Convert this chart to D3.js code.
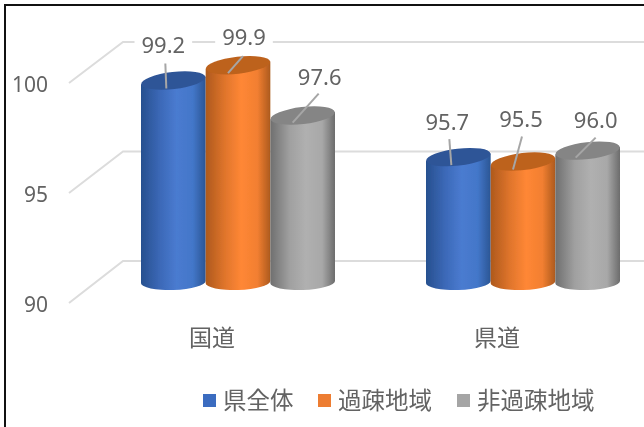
<!DOCTYPE html>
<html>
<head>
<meta charset="utf-8">
<script src="https://cdn.jsdelivr.net/npm/d3@7"></script>
<style>
html, body { margin: 0; padding: 0; background: #fff; overflow: hidden; }
svg { display: block; }
text { font-family: "Noto Sans", "Noto Sans CJK JP", sans-serif; fill: #636363; }
</style>
</head>
<body>
<div id="chart"></div>
<script>
// 1. DATA
const categories = ["国道", "県道"];
const seriesNames = ["県全体", "過疎地域", "非過疎地域"];
const kenzentai = [99.2, 95.7];
const kaso = [99.9, 95.5];
const hikaso = [97.6, 96.0];
const tickValues = [90, 95, 100];

// 2. SETUP
const width = 644;
const height = 427;

const svg = d3.select("#chart")
    .append("svg")
    .attr("width", width)
    .attr("height", height);

const seriesValues = [kenzentai, kaso, hikaso];
const rows = categories.flatMap((c, i) => seriesNames.map((s, j) => ({
    category: c, series: s, value: seriesValues[j][i]
})));

const x0 = d3.scaleBand().domain(categories).range([95.5, 665.5]);
const x1 = d3.scaleBand().domain(seriesNames).range([-97, 97]);

// 3d look: back wall, front edge and bar axis all have their own vertical position
const yBack = d3.scaleLinear().domain([90, 100]).range([261, 42]);
const yFront = d3.scaleLinear().domain([90, 100]).range([303, 83]);
const yBar = d3.scaleLinear().domain([90, 100]).range([282, 63]);

const color = d3.scaleOrdinal().domain(seriesNames).range(["#3a6cc0", "#ed7d31", "#a5a5a5"]);
const capColor = d3.scaleOrdinal().domain(seriesNames).range(["#2f5597", "#bd621f", "#858585"]);
const ramps = [
    ["#27508f", "#3c69b8", "#4a7bd0", "#4377c9", "#2b5594"],
    ["#ae591c", "#e0752c", "#ff8735", "#f27f31", "#ac5a1e"],
    ["#6f6f6f", "#a0a0a0", "#b0b0b0", "#a8a8a8", "#6c6c6c"]
];

const defs = svg.append("defs");
seriesNames.forEach((s, i) => {
    const g = defs.append("linearGradient").attr("id", `body-${i}`)
        .attr("x1", 0).attr("x2", 1).attr("y1", 0).attr("y2", 0);
    [0, 0.3, 0.55, 0.8, 1].forEach((o, k) => {
        g.append("stop").attr("offset", o).attr("stop-color", ramps[i][k]);
    });
});
// the source is a soft, rescaled screenshot
defs.append("filter").attr("id", "soft")
    .append("feGaussianBlur").attr("stdDeviation", 0.45);

const root = svg.append("g").attr("filter", "url(#soft)");

// 3. GRID
const grid = root.append("g");
grid.selectAll("path").data(tickValues).join("path")
    .attr("fill", "none").attr("stroke", "#dcdcdc").attr("stroke-width", 2)
    .attr("d", d => `M69,${yFront(d)}L123,${yBack(d)}L${width},${yBack(d)}`);

root.selectAll(".tick-label").data(tickValues).join("text")
    .attr("class", "tick-label")
    .attr("x", 48).attr("y", d => yFront(d) + 1)
    .attr("text-anchor", "end").attr("dominant-baseline", "central")
    .style("font-size", "21px")
    .text(d => d);

// 4. CYLINDERS
const rx = x1.bandwidth() / 2;
const ry = 8.5;
const topTilt = -6.5;
const baseTilt = -2;
const rad = Math.PI / 180;

function cylinder(d) {
    const cx = x0(d.category) + x0.bandwidth() / 2 + x1(d.series) + rx;
    const yt = yBar(d.value);
    const yb = yBar(90);
    const dt = rx * Math.sin(-topTilt * rad);
    const db = rx * Math.sin(-baseTilt * rad);
    // top edge is a chord, the cap ellipse is drawn over it
    return `M${cx - rx},${yt + dt}`
        + `L${cx - rx},${yb + db}`
        + `A${rx},8 ${baseTilt} 0 0 ${cx + rx},${yb - db}`
        + `L${cx + rx},${yt - dt}Z`;
}

const bar = root.selectAll(".bar").data(rows).join("g").attr("class", "bar");
bar.append("path")
    .attr("fill", d => `url(#body-${seriesNames.indexOf(d.series)})`)
    .attr("d", cylinder);
bar.append("ellipse")
    .attr("rx", rx).attr("ry", ry)
    .attr("transform", d => {
        const cx = x0(d.category) + x0.bandwidth() / 2 + x1(d.series) + rx;
        return `translate(${cx},${yBar(d.value)}) rotate(${topTilt})`;
    })
    .attr("fill", d => capColor(d.series));

// 5. DATA LABELS (moved by hand in the original, so offsets from the bar top)
const labelDx = [-10, 6, 17, -11, -2, 8];
const labelDy = [-37, -29, -40, -36, -44, -32];
const leaderFrom = [[-7, 8], [-10, 8], [-10, 7], [-7, 8], [-10, 8], [-12, 7]];
const leaderTo = [[-8, -17], [5, -9], [16, -22], [-9, -18], [-1, -25], [8, -13]];

rows.forEach((d, i) => {
    const cx = x0(d.category) + x0.bandwidth() / 2 + x1(d.series) + rx;
    const y = yBar(d.value);
    root.append("line")
        .attr("x1", cx + leaderFrom[i][0]).attr("y1", y + leaderFrom[i][1])
        .attr("x2", cx + leaderTo[i][0]).attr("y2", y + leaderTo[i][1])
        .attr("stroke", "#a6a6a6").attr("stroke-width", 2);
    const t = root.append("text")
        .attr("x", cx + labelDx[i]).attr("y", y + labelDy[i])
        .attr("text-anchor", "middle").attr("dominant-baseline", "central")
        .style("font-size", "22px")
        .text(d.value.toFixed(1));
    // labels sit on a white box that breaks the gridline
    const b = t.node().getBBox();
    root.insert("rect", () => t.node())
        .attr("x", b.x - 7).attr("y", b.y + 4)
        .attr("width", b.width + 14).attr("height", b.height - 8)
        .attr("fill", "#fff");
});

// 6. CATEGORY LABELS
root.selectAll(".cat").data(categories).join("text")
    .attr("class", "cat")
    .attr("x", d => x0(d) + x0.bandwidth() / 2 - 26)
    .attr("y", 337)
    .attr("text-anchor", "middle").attr("dominant-baseline", "central")
    .style("font-size", "23px")
    .text(d => d);

// 7. LEGEND
const legendX = [203, 318, 457];
const legend = root.selectAll(".legend-item").data(seriesNames).join("g")
    .attr("class", "legend-item")
    .attr("transform", (d, i) => `translate(${legendX[i]}, 394)`);
legend.append("rect").attr("width", 13).attr("height", 13).attr("fill", d => color(d));
legend.append("text").attr("x", 20).attr("y", 6)
    .attr("dominant-baseline", "central")
    .style("font-size", "23.5px")
    .text(d => d);

// 8. FRAME (only top and left edges are in the picture)
svg.append("path")
    .attr("fill", "none").attr("stroke", "#111").attr("stroke-width", 2)
    .attr("d", `M5,${height}L5,5L${width},5`);
</script>
</body>
</html>
